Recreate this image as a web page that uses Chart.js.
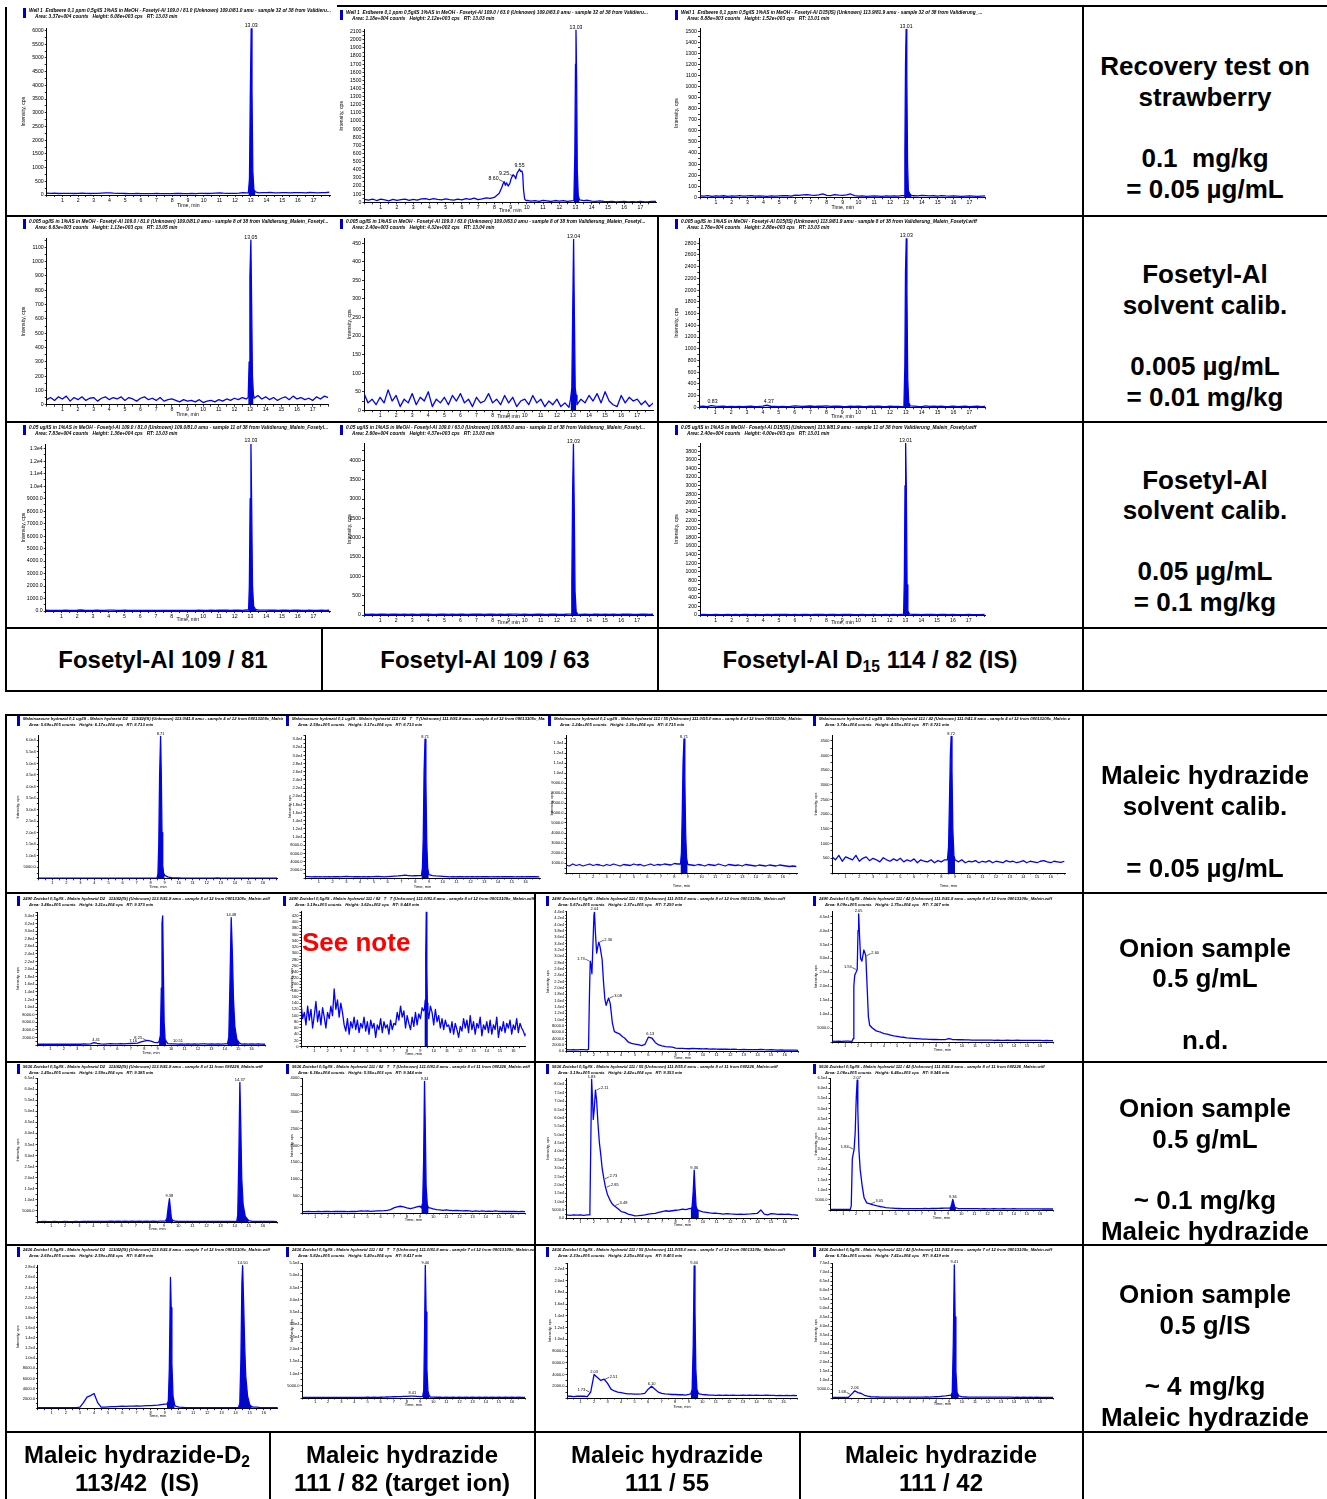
<!DOCTYPE html>
<html>
<head>
<meta charset="utf-8">
<title>Fosetyl-Al / Maleic hydrazide chromatograms</title>
<script src="https://cdn.jsdelivr.net/npm/chart.js@4.4.1/dist/chart.umd.min.js"></script>
<style>
  body { margin:0; width:1327px; height:1499px; background:#fff; position:relative; overflow:hidden;
         font-family:"Liberation Sans", Arial, sans-serif; }
  canvas { position:absolute; background:#fff; z-index:1; }
  .ln { position:absolute; background:#000; z-index:5; }
  .tx { position:absolute; width:400px; text-align:center; font-weight:bold; color:#000; white-space:nowrap; z-index:6; }
  .tx sub { font-size:65%; vertical-align:-0.25em; line-height:0; }
  .note { position:absolute; color:#ff0000; font-weight:bold; font-size:26px; line-height:26px; white-space:nowrap; z-index:6; }
</style>
</head>
<body>
<script>
// ---- time grids (min) ----
const gridA = [0,0.25,0.5,0.75,1,1.25,1.5,1.75,2,2.25,2.5,2.75,3,3.25,3.5,3.75,4,4.25,4.5,4.75,5,5.25,5.5,5.75,6,6.25,6.5,6.75,7,7.25,7.5,7.75,8,8.25,8.5,8.75,9,9.25,9.5,9.75,10,10.25,10.5,10.75,11,11.25,11.5,11.75,12,12.25,12.5,12.75,13,13.25,13.5,13.75,14,14.25,14.5,14.75,15,15.25,15.5,15.75,16,16.25,16.5,16.75,17,17.25,17.5,17.75,18];
const gridB = [0,0.25,0.5,0.75,1,1.25,1.5,1.75,2,2.25,2.5,2.75,3,3.25,3.5,3.75,4,4.25,4.5,4.75,5,5.25,5.5,5.75,6,6.25,6.5,6.75,7,7.25,7.5,7.75,8,8.25,8.5,8.75,9,9.25,9.5,9.75,10,10.25,10.5,10.75,11,11.25,11.5,11.75,12,12.25,12.5,12.75,13,13.25,13.5,13.75,14,14.25,14.5,14.75,15,15.25,15.5,15.75,16,16.25,16.5,16.75,17];
const gridF = [0,0.125,0.25,0.375,0.5,0.625,0.75,0.875,1,1.125,1.25,1.375,1.5,1.625,1.75,1.875,2,2.125,2.25,2.375,2.5,2.625,2.75,2.875,3,3.125,3.25,3.375,3.5,3.625,3.75,3.875,4,4.125,4.25,4.375,4.5,4.625,4.75,4.875,5,5.125,5.25,5.375,5.5,5.625,5.75,5.875,6,6.125,6.25,6.375,6.5,6.625,6.75,6.875,7,7.125,7.25,7.375,7.5,7.625,7.75,7.875,8,8.125,8.25,8.375,8.5,8.625,8.75,8.875,9,9.125,9.25,9.375,9.5,9.625,9.75,9.875,10,10.125,10.25,10.375,10.5,10.625,10.75,10.875,11,11.125,11.25,11.375,11.5,11.625,11.75,11.875,12,12.125,12.25,12.375,12.5,12.625,12.75,12.875,13,13.125,13.25,13.375,13.5,13.625,13.75,13.875,14,14.125,14.25,14.375,14.5,14.625,14.75,14.875,15,15.125,15.25,15.375,15.5,15.625,15.75,15.875,16,16.125,16.25,16.375,16.5,16.625,16.75,16.875,17];

// ---- Fosetyl-Al, strawberry 0.1 mg/kg ----
const a1Base = [70,60,65,55,60,58,62,55,60,65,58,55,60,62,70,80,75,65,60,58,55,50,52,55,50,48,52,50,55,50,48,52,50,55,58,52,50,55,52,60,58,55,62,70,75,65,60,58,62,70,90,80,75,85,80,90,85,95,80,75,90,85,80,88,90,85,80,92,85,80,90,85,100];
const a1Peak = [[12.85,80],[12.92,600],[12.97,3500],[13.03,6080],[13.08,3800],[13.13,900],[13.2,200],[13.3,110]];
const a1Marks = [[13.03,6080,'13.03']];
const a2Base = [35,28,40,22,38,30,18,35,25,32,40,24,36,28,42,45,32,44,36,30,42,32,26,40,30,46,36,52,34,42,55,48,60,100,180,250,260,320,380,380,30,15,20,12,25,18,10,22,15,20,12,18,10,15,20,25,15,12,18,10,8,12,5,8,10,6,8,5,10,6,8,12,10];
const a2Hump = [[8.0,60],[8.3,110],[8.45,180],[8.52,220],[8.6,255],[8.68,210],[8.75,240],[8.85,200],[8.95,230],[9.05,300],[9.15,340],[9.25,320],[9.32,290],[9.4,360],[9.5,390],[9.55,410],[9.62,380],[9.7,385],[9.75,340],[9.8,150],[9.87,40],[9.95,20],[10.05,25]];
const a2Peak = [[12.9,20],[12.96,600],[13.0,1700],[13.03,2120],[13.07,1500],[13.11,400],[13.17,80],[13.25,30]];
const a2Marks = [[8.60,255,'8.60','l'],[9.25,320,'9.25','l'],[9.55,410,'9.55'],[13.03,2120,'13.03']];
const a3Base = [12,10,15,8,12,10,14,9,12,10,15,10,12,14,10,12,10,8,12,10,12,14,15,10,20,18,22,25,20,18,22,30,18,15,25,20,18,22,30,15,10,12,8,10,12,10,8,12,10,12,10,15,12,10,14,12,18,15,12,14,10,15,12,10,12,10,8,10,12,10,8,10,12];
const a3Peak = [[12.88,15],[12.93,400],[12.97,1200],[13.01,1520],[13.05,1100],[13.1,300],[13.15,60],[13.25,30],[13.35,15]];
const a3Marks = [[13.01,1520,'13.01']];

// ---- Fosetyl-Al, solvent 0.005 ug/mL ----
const b1Base = [35,50,30,55,40,60,25,50,35,55,30,45,50,25,45,55,35,50,40,55,30,50,40,25,45,55,35,45,30,50,25,35,40,30,20,35,25,30,20,35,15,25,30,20,35,25,40,30,45,35,50,40,55,45,65,40,55,35,50,30,45,55,35,60,40,50,35,45,30,55,40,60,50];
const b1Peak = [[12.88,50],[12.94,300],[12.99,900],[13.05,1150],[13.1,700],[13.15,200],[13.22,60]];
const b1Marks = [[13.05,1150,'13.05']];
const b2Base = [45,20,30,15,35,20,55,25,40,10,30,20,45,15,35,25,50,10,30,20,35,15,40,25,45,20,30,10,35,20,25,45,20,30,15,40,20,35,10,25,30,15,40,20,30,10,25,15,30,10,20,8,25,15,30,20,40,25,45,20,50,25,15,10,40,20,35,25,30,15,25,10,20];
const b2Peak = [[12.85,30],[12.93,60],[12.98,250],[13.04,460],[13.09,250],[13.14,60],[13.2,40]];
const b2Marks = [[13.04,460,'13.04']];
const b3Base = [15,18,12,30,20,15,18,12,15,10,14,12,15,18,12,15,20,35,18,15,12,15,10,14,25,20,15,18,22,15,20,18,25,15,18,20,15,12,18,15,20,15,12,18,15,20,15,12,18,14,15,12,15,18,20,15,12,25,15,20,15,18,12,15,20,12,15,18,12,15,18,12,15];
const b3Peak = [[12.88,15],[12.94,700],[12.98,2300],[13.03,2880],[13.07,2000],[13.12,500],[13.18,80],[13.28,25]];
const b3Marks = [[0.83,40,'0.83'],[4.37,45,'4.37'],[13.03,2880,'13.03']];

// ---- Fosetyl-Al, solvent 0.05 ug/mL ----
const c1Base = [60,50,55,45,50,60,55,50,60,80,55,50,45,60,50,55,70,65,55,50,60,55,50,48,52,55,50,45,55,50,48,52,50,55,58,52,50,55,52,60,58,55,62,55,60,65,60,58,62,70,55,80,75,85,80,70,65,60,70,55,60,65,58,62,60,55,50,60,55,50,60,55,60];
const c1Peak = [[12.88,80],[12.93,2000],[12.98,9000],[13.03,13400],[13.08,8000],[13.13,2000],[13.2,400],[13.3,150],[13.4,90]];
const c1Marks = [[13.03,13400,'13.03']];
const c2Base = [20,15,25,18,20,22,15,20,25,18,20,15,22,18,20,25,20,15,18,20,22,18,20,15,25,20,18,22,20,25,18,20,22,18,20,15,20,25,22,18,20,15,18,20,22,18,20,25,20,18,20,25,30,20,15,22,18,20,25,18,20,15,22,18,20,25,20,15,18,20,22,18,20];
const c2Peak = [[12.88,25],[12.93,800],[12.98,3200],[13.03,4420],[13.08,2800],[13.13,600],[13.2,80],[13.3,25]];
const c2Marks = [[13.03,4420,'13.03']];
const c3Base = [10,12,8,10,12,10,8,12,10,12,10,12,14,10,12,10,8,12,10,12,12,14,15,10,12,10,12,14,10,12,14,12,10,15,12,10,12,14,12,10,10,12,8,10,12,10,8,12,10,12,10,15,12,10,14,12,10,15,12,14,10,15,12,10,12,10,8,10,12,10,8,10,12];
const c3Peak = [[12.88,12],[12.93,900],[12.97,3000],[13.01,3980],[13.05,3000],[13.1,700],[13.15,100],[13.25,20]];
const c3Marks = [[13.01,3980,'13.01']];

// ---- Maleic hydrazide, solvent 0.05 ug/mL ----
const d1Base = [300,300,280,300,320,300,300,280,300,300,300,320,300,300,280,300,300,300,320,300,300,280,300,300,300,320,300,300,300,280,300,320,300,300,320,1200,900,700,500,400,350,300,320,300,300,320,300,280,300,320,300,400,300,320,300,280,300,300,320,300,280,300,300,320,300,300,280,300,300];
const d1Peak = [[8.45,300],[8.52,2000],[8.58,15000],[8.64,45000],[8.71,61700],[8.76,45000],[8.81,20000],[8.86,6000],[8.92,2500],[9.0,1500]];
const d1Marks = [[8.71,61700,'8.71']];
const d2Base = [400,350,300,350,300,280,300,350,300,320,300,350,400,350,300,320,300,350,300,300,350,400,350,300,350,400,450,500,600,700,600,500,550,600,500,700,800,600,500,450,400,350,300,350,300,320,300,350,300,300,350,300,320,300,280,300,350,300,300,320,300,280,300,350,300,320,300,300,280];
const d2Peak = [[8.45,600],[8.52,2500],[8.58,10000],[8.64,26000],[8.71,34000],[8.77,24000],[8.83,9000],[8.9,2500],[8.98,900]];
const d2Marks = [[8.71,34000,'8.71']];
const d3Base = [800,700,900,750,850,700,800,900,750,850,800,700,850,750,900,800,700,850,800,750,900,800,850,700,800,900,750,850,800,900,850,800,950,900,800,900,850,800,750,850,800,700,850,800,750,900,800,700,850,800,750,800,700,850,800,750,700,800,750,700,800,750,700,800,750,700,650,700,650];
const d3Peak = [[8.45,900],[8.52,2000],[8.58,6000],[8.64,11000],[8.71,13400],[8.77,9500],[8.83,4000],[8.9,1500],[8.98,900]];
const d3Marks = [[8.71,13400,'8.71']];
const d4Base = [550,450,600,400,550,500,450,600,400,500,550,420,500,450,380,520,450,400,480,420,500,380,450,400,480,350,450,400,380,450,350,420,380,450,400,350,420,380,450,350,400,380,420,350,400,370,420,350,400,380,350,420,380,400,350,380,420,350,400,380,350,400,420,380,350,400,380,360,400];
const d4Peak = [[8.45,450],[8.53,900],[8.6,2500],[8.66,4000],[8.72,4650],[8.78,3500],[8.84,1500],[8.92,600],[9.0,450]];
const d4Marks = [[8.72,4650,'8.72']];

// ---- onion sample, n.d. ----
const e1Base = [200,200,250,200,200,250,200,200,250,200,200,250,200,200,300,250,300,600,400,300,250,300,350,300,300,350,300,350,400,450,500,800,1000,1200,1000,700,600,500,400,350,300,300,250,300,250,300,250,300,250,300,300,250,300,250,300,250,300,300,250,500,300,250,300,250,300,250,300,250,200];
const e1PeakA = [[9.1,900],[9.2,2500],[9.27,15000],[9.32,32000],[9.37,34000],[9.42,20000],[9.48,6000],[9.55,1500],[9.65,900]];
const e1PeakB = [[14.2,300],[14.3,2000],[14.38,15000],[14.48,33500],[14.56,25000],[14.65,12000],[14.75,5000],[14.9,1500],[15.1,500]];
const e1Marks = [[4.41,600,'4.41'],[7.16,400,'7.16'],[8.25,1200,'8.25','l'],[10.51,350,'10.51'],[14.48,33500,'14.48']];
const e2Base = [140,90,110,70,130,85,120,60,100,145,80,115,70,125,95,60,110,90,130,100,185,120,150,95,140,110,70,50,90,40,80,60,95,55,85,45,75,60,95,50,80,40,85,60,75,30,70,55,90,45,80,60,70,40,85,55,75,70,110,85,130,95,115,60,100,75,55,95,65,110,70,105,90,125,115,135,140,90,130,110,70,120,80,100,60,90,55,85,65,70,45,80,40,75,55,30,65,50,90,60,85,45,100,55,80,40,75,60,95,35,70,55,80,45,85,40,70,55,95,30,65,50,80,45,75,60,85,40,70,55,90,45,75,60,50,35,45];
const e2Peak = [[9.3,120],[9.36,150],[9.4,300],[9.44,433],[9.48,250],[9.52,140],[9.56,110]];
const e3Base = [500,450,500,450,500,500,450,28000,44000,34000,29000,16000,16500,8000,6500,5500,5000,4200,3000,2500,2300,2100,1800,2200,4500,4200,2800,2000,1700,1500,1400,1300,1000,900,900,850,800,900,850,800,750,800,700,750,700,650,700,650,600,700,600,550,600,550,500,550,500,600,500,450,500,450,400,450,400,350,400,350,300];
const e3Hump = [[1.6,600],[1.68,20000],[1.73,28500],[1.8,27000],[1.85,24500],[1.92,33000],[2.0,43000],[2.04,44000],[2.1,38000],[2.2,31000],[2.28,33000],[2.36,34500],[2.45,33000],[2.6,29000],[2.7,22000],[2.8,16500],[2.9,14500],[3.0,16000],[3.08,16800],[3.2,15000],[3.35,9000],[3.5,6200],[3.7,5800],[3.9,5400],[4.1,4600]];
const e3Marks = [[1.73,28500,'1.73','l'],[2.04,44000,'2.04'],[2.36,34500,'2.36','r'],[3.08,16800,'3.08','r'],[6.13,4800,'6.13']];
const e4Base = [300,250,300,250,300,300,250,300,300,300,300,300,300,300,300,3500,3000,2800,2500,2200,2000,1800,1700,1500,1400,1300,1200,1100,1000,1000,950,900,900,850,850,900,1200,900,850,800,800,750,750,700,700,700,650,650,700,650,600,650,600,600,650,600,600,700,600,600,550,600,550,600,550,500,550,500,500];
const e4Hump = [[1.55,300],[1.62,1200],[1.68,20000],[1.75,24000],[1.85,25000],[1.94,26000],[2.0,40000],[2.05,46000],[2.12,38000],[2.2,30000],[2.3,29000],[2.45,33000],[2.6,31000],[2.7,20000],[2.8,9000],[2.9,6000],[3.1,5000],[3.4,4000],[3.6,3700]];
const e4Marks = [[1.94,26000,'1.94','l'],[2.05,46000,'2.05'],[2.60,31000,'2.60','r']];

// ---- onion sample, ~0.1 mg/kg ----
const f1Base = [200,200,250,200,200,250,200,200,250,200,200,250,200,250,300,250,300,250,300,250,300,350,300,350,300,350,300,350,300,350,300,350,300,350,300,350,400,500,600,450,300,300,250,300,250,300,250,300,250,300,300,250,300,250,300,250,300,300,250,300,300,250,300,250,300,250,300,250,200];
const f1PeakA = [[9.1,500],[9.2,1500],[9.3,7000],[9.38,10500],[9.45,6000],[9.52,1500],[9.65,600]];
const f1PeakB = [[14.15,300],[14.22,3000],[14.3,30000],[14.37,63000],[14.43,45000],[14.5,20000],[14.6,8000],[14.75,2500],[15.0,600]];
const f1Marks = [[9.38,10500,'9.38'],[14.37,63000,'14.37']];
const f2Base = [40,40,50,40,40,50,40,45,50,40,45,50,45,50,40,50,45,50,60,55,60,50,55,60,65,70,80,100,150,180,200,180,150,130,150,180,200,250,200,150,120,100,90,80,90,80,70,80,70,60,70,60,50,60,50,60,50,55,50,60,50,45,50,45,50,45,40,45,40];
const f2Peak = [[9.1,150],[9.2,300],[9.27,1500],[9.34,3900],[9.4,2500],[9.46,800],[9.55,250],[9.65,150]];
const f2Marks = [[9.34,3900,'9.34']];
const f3Base = [2000,1800,2000,1900,2000,1800,2000,80000,75000,50000,30000,20000,12000,8000,6000,5000,4000,3500,2500,2000,1500,1600,1800,2000,2500,2800,3000,3500,4000,4500,4200,4500,4800,5000,5500,5200,5800,6000,6000,4500,3800,3500,3200,3000,3000,2800,2500,2800,2600,2500,2400,2500,2300,2500,2600,2800,3000,5000,2500,2000,2800,2600,2400,2500,2300,2500,2200,2000,1800];
const f3Hump = [[1.7,2000],[1.76,40000],[1.83,83000],[1.9,70000],[1.95,59000],[2.02,65000],[2.11,76500],[2.2,70000],[2.3,56000],[2.4,45000],[2.5,38000],[2.6,30000],[2.73,23500],[2.85,18500],[3.0,14000],[3.2,10500],[3.35,8500],[3.48,7500],[3.65,6500],[3.9,4800]];
const f3Peak = [[9.1,5800],[9.2,6500],[9.28,15000],[9.36,28800],[9.42,18000],[9.5,7000],[9.6,5000],[9.7,4800]];
const f3Marks = [[1.83,83000,'1.83'],[2.11,76500,'2.11','r'],[2.73,23500,'2.73','r'],[2.85,18500,'2.85','r'],[3.48,7500,'3.48','r'],[9.36,28800,'9.36']];
const f4Base = [300,300,250,300,300,300,250,300,300,300,300,300,300,300,300,300,1500,1200,1000,900,800,750,700,700,650,650,700,650,700,750,700,800,750,800,850,900,900,800,800,750,700,700,650,700,650,650,600,650,600,600,650,600,600,650,600,600,650,600,550,600,550,600,550,600,550,500,550,500,500];
const f4Hump = [[1.55,300],[1.62,2000],[1.7,25000],[1.78,28000],[1.84,30000],[1.92,38000],[2.0,55000],[2.07,64000],[2.12,50000],[2.2,30000],[2.3,20000],[2.45,12000],[2.6,6000],[2.8,3500],[3.05,3000],[3.3,2500],[3.6,2000],[3.9,1600]];
const f4Peak = [[9.1,900],[9.2,1200],[9.28,3000],[9.36,5200],[9.43,3500],[9.5,1500],[9.6,1000]];
const f4Marks = [[1.84,30000,'1.84','l'],[2.07,64000,'2.07'],[3.05,3000,'3.05','r'],[9.36,5200,'9.36']];

// ---- onion sample, ~4 mg/kg ----
const g1Base = [200,200,200,200,200,200,200,200,200,200,200,200,300,1200,2300,2600,3000,1200,300,300,350,400,400,450,500,450,500,500,550,500,550,600,600,650,700,800,900,900,700,500,300,250,200,200,200,200,200,200,200,200,200,200,200,200,200,200,200,200,300,200,200,300,300,200,200,200,200,200,200];
const g1PeakA = [[9.15,900],[9.25,1500],[9.32,8000],[9.4,26000],[9.45,20000],[9.5,9000],[9.58,2500],[9.7,700]];
const g1PeakB = [[14.2,200],[14.3,1000],[14.38,10000],[14.45,25000],[14.5,28300],[14.58,20000],[14.65,12000],[14.72,6500],[14.85,2500],[15.0,800],[15.15,400]];
const g1Marks = [[14.50,28300,'14.50']];
const g2Base = [200,200,250,200,200,250,200,200,250,200,200,250,200,250,200,250,200,250,200,250,300,250,300,250,300,350,400,450,500,550,600,650,700,750,800,700,600,500,450,400,350,300,300,250,300,250,300,250,300,250,300,250,300,250,300,250,300,250,300,250,300,250,300,250,300,250,300,250,200];
const g2Peak = [[9.2,700],[9.28,3000],[9.34,25000],[9.4,54000],[9.46,35000],[9.52,12000],[9.6,3000],[9.7,800]];
const g2Marks = [[8.41,900,'8.41'],[9.40,54000,'9.40']];
const g3Base = [300,300,250,300,300,300,250,1000,4000,3500,3000,3200,2500,1500,1200,1000,900,800,700,700,650,650,700,800,1500,2000,1500,1000,800,700,650,600,600,550,550,500,600,700,800,700,600,550,500,500,450,500,450,500,450,500,450,450,500,450,500,450,500,450,450,500,450,450,400,450,400,450,400,450,400];
const g3Peak = [[9.15,700],[9.25,1500],[9.33,9000],[9.4,22500],[9.46,15000],[9.52,5000],[9.6,1500],[9.7,800]];
const g3Marks = [[1.75,1000,'1.73','l'],[2.0,4000,'2.03'],[2.75,3200,'2.51','r'],[6.25,2000,'6.10'],[9.40,22500,'9.40']];
const g4Base = [300,300,300,300,300,300,2000,4000,3000,2500,1500,1000,700,600,550,500,500,450,450,450,450,450,450,450,450,500,450,500,500,550,500,600,700,800,1000,1200,1500,1200,900,700,600,550,500,500,450,500,450,500,450,450,500,450,450,500,450,450,400,450,400,450,400,450,400,450,400,400,400,400,400];
const g4Peak = [[9.15,1500],[9.25,3000],[9.33,30000],[9.41,74000],[9.47,45000],[9.53,15000],[9.62,3000],[9.75,1200]];
const g4Marks = [[1.5,2000,'1.68','l'],[1.75,4000,'2.06'],[9.41,74000,'9.41']];

// ---- chart headers ----
const heads = {
  a1: ['Well 1  Erdbeere 0,1 ppm 0,5g/IS 1%AS in MeOH - Fosetyl-Al 109.0 / 81.0 (Unknown) 109.0/81.0 amu - sample 32 of 38 from Validieru...', 'Area: 3.37e+004 counts   Height: 6.08e+003 cps   RT: 13.03 min'],
  a2: ['Well 1  Erdbeere 0,1 ppm 0,5g/IS 1%AS in MeOH - Fosetyl-Al 109.0 / 63.0 (Unknown) 109.0/63.0 amu - sample 32 of 38 from Validieru...', 'Area: 1.18e+004 counts   Height: 2.12e+003 cps   RT: 13.03 min'],
  a3: ['Well 1  Erdbeere 0,1 ppm 0,5g/IS 1%AS in MeOH - Fosetyl-Al D15(IS) (Unknown) 113.9/81.9 amu - sample 32 of 38 from Validierung_...', 'Area: 8.88e+003 counts   Height: 1.52e+003 cps   RT: 13.01 min'],
  b1: ['0.005 ug/IS in 1%AS in MeOH - Fosetyl-Al 109.0 / 81.0 (Unknown) 109.0/81.0 amu - sample 8 of 38 from Validierung_Malein_Fosetyl...', 'Area: 6.63e+003 counts   Height: 1.13e+003 cps   RT: 13.05 min'],
  b2: ['0.005 ug/IS in 1%AS in MeOH - Fosetyl-Al 109.0 / 63.0 (Unknown) 109.0/63.0 amu - sample 8 of 38 from Validierung_Malein_Fosetyl...', 'Area: 2.40e+003 counts   Height: 4.32e+002 cps   RT: 13.04 min'],
  b3: ['0.005 ug/IS in 1%AS in MeOH - Fosetyl-Al D15(IS) (Unknown) 113.9/81.9 amu - sample 8 of 38 from Validierung_Malein_Fosetyl.wiff', 'Area: 1.78e+004 counts   Height: 2.88e+003 cps   RT: 13.03 min'],
  c1: ['0.05 ug/IS in 1%AS in MeOH - Fosetyl-Al 109.0 / 81.0 (Unknown) 109.0/81.0 amu - sample 11 of 38 from Validierung_Malein_Fosetyl...', 'Area: 7.83e+004 counts   Height: 1.36e+004 cps   RT: 13.03 min'],
  c2: ['0.05 ug/IS in 1%AS in MeOH - Fosetyl-Al 109.0 / 63.0 (Unknown) 109.0/63.0 amu - sample 11 of 38 from Validierung_Malein_Fosetyl...', 'Area: 2.60e+004 counts   Height: 4.37e+003 cps   RT: 13.03 min'],
  c3: ['0.05 ug/IS in 1%AS in MeOH - Fosetyl-Al D15(IS) (Unknown) 113.9/81.9 amu - sample 11 of 38 from Validierung_Malein_Fosetyl.wiff', 'Area: 2.40e+004 counts   Height: 4.00e+003 cps   RT: 13.01 min'],
  d1: ['Maleinsaeure hydrazid 0,1 ug/IS - Malein hydrazid D2   113/42(IS) (Unknown) 113.0/41.8 amu - sample 4 of 12 from 08013108c_Malein...', 'Area: 5.69e+005 counts   Height: 6.17e+004 cps   RT: 8.713 min'],
  d2: ['Maleinsaeure hydrazid 0,1 ug/IS - Malein hydrazid 111 / 82   T   T (Unknown) 111.0/81.8 amu - sample 4 of 12 from 08013108c_Malein...', 'Area: 2.58e+005 counts   Height: 3.17e+004 cps   RT: 8.713 min'],
  d3: ['Maleinsaeure hydrazid 0,1 ug/IS - Malein hydrazid 111 / 55 (Unknown) 111.0/55.0 amu - sample 4 of 12 from 08013108c_Malein.wiff', 'Area: 1.24e+005 counts   Height: 1.36e+004 cps   RT: 8.715 min'],
  d4: ['Maleinsaeure hydrazid 0,1 ug/IS - Malein hydrazid 111 / 42 (Unknown) 111.0/41.8 amu - sample 4 of 12 from 08013108c_Malein.wiff', 'Area: 3.74e+004 counts   Height: 4.55e+003 cps   RT: 8.721 min'],
  e1: ['2490 Zwiebel 0,5g/IS - Malein hydrazid D2   113/42(IS) (Unknown) 113.0/41.8 amu - sample 8 of 12 from 08013108c_Malein.wiff', 'Area: 3.46e+005 counts   Height: 3.21e+004 cps   RT: 9.373 min'],
  e2: ['2490 Zwiebel 0,5g/IS - Malein hydrazid 111 / 82   T   T (Unknown) 111.0/81.8 amu - sample 8 of 12 from 08013108c_Malein.wiff', 'Area: 3.19e+003 counts   Height: 3.62e+002 cps   RT: 9.448 min'],
  e3: ['2490 Zwiebel 0,5g/IS - Malein hydrazid 111 / 55 (Unknown) 111.0/55.0 amu - sample 8 of 12 from 08013108c_Malein.wiff', 'Area: 5.67e+005 counts   Height: 1.37e+005 cps   RT: 7.250 min'],
  e4: ['2490 Zwiebel 0,5g/IS - Malein hydrazid 111 / 42 (Unknown) 111.0/41.8 amu - sample 8 of 12 from 08013108c_Malein.wiff', 'Area: 9.09e+005 counts   Height: 1.75e+004 cps   RT: 7.167 min'],
  f1: ['5616 Zwiebel 0,5g/IS - Malein hydrazid D2   113/42(IS) (Unknown) 113.0/41.8 amu - sample 8 of 11 from 080226_Malein.wiff', 'Area: 1.45e+005 counts   Height: 1.59e+004 cps   RT: 9.385 min'],
  f2: ['5616 Zwiebel 0,5g/IS - Malein hydrazid 111 / 82   T   T (Unknown) 111.0/81.8 amu - sample 8 of 11 from 080226_Malein.wiff', 'Area: 6.36e+004 counts   Height: 5.56e+003 cps   RT: 9.344 min'],
  f3: ['5616 Zwiebel 0,5g/IS - Malein hydrazid 111 / 55 (Unknown) 111.0/55.0 amu - sample 8 of 11 from 080226_Malein.wiff', 'Area: 3.19e+005 counts   Height: 2.42e+004 cps   RT: 9.353 min'],
  f4: ['5616 Zwiebel 0,5g/IS - Malein hydrazid 111 / 42 (Unknown) 111.0/41.8 amu - sample 8 of 11 from 080226_Malein.wiff', 'Area: 1.06e+005 counts   Height: 6.46e+003 cps   RT: 9.346 min'],
  g1: ['2416 Zwiebel 0,5g/IS - Malein hydrazid D2   113/42(IS) (Unknown) 113.0/41.8 amu - sample 7 of 12 from 08013108c_Malein.wiff', 'Area: 2.60e+005 counts   Height: 2.59e+004 cps   RT: 9.409 min'],
  g2: ['2416 Zwiebel 0,5g/IS - Malein hydrazid 111 / 82   T   T (Unknown) 111.0/81.8 amu - sample 7 of 12 from 08013108c_Malein.wiff', 'Area: 5.82e+005 counts   Height: 5.40e+004 cps   RT: 9.417 min'],
  g3: ['2416 Zwiebel 0,5g/IS - Malein hydrazid 111 / 55 (Unknown) 111.0/55.0 amu - sample 7 of 12 from 08013108c_Malein.wiff', 'Area: 2.33e+005 counts   Height: 2.25e+004 cps   RT: 9.403 min'],
  g4: ['2416 Zwiebel 0,5g/IS - Malein hydrazid 111 / 42 (Unknown) 111.0/41.8 amu - sample 7 of 12 from 08013108c_Malein.wiff', 'Area: 6.74e+005 counts   Height: 7.41e+004 cps   RT: 9.419 min']
};

// ---- layout of the chart cells (page px); yt / xt = centre of the axis titles ----
const T1 = {grid: gridA, xLast: 17, fs: 5.2, hf: 4.8, tl: 2};
const T2 = {grid: gridB, xLast: 16, fs: 4.0, hf: 4.2, tl: 1.5};
const cells = [
  {id:'a1', t:T1, box:[7,6,330,208],   plot:[46.7,28.3,330,195],   hx:23,  yt:24,  xt:206,   xMax:18.05, yMax:6080,  yStep:500,  fmt:'int', zero:true, base:a1Base, segs:[a1Peak], fills:[a1Peak], marks:a1Marks},
  {id:'a2', t:T1, box:[338,8,327,206], plot:[364.5,29.5,656,202.3], hx:340, yt:342, xt:211.5, xMax:17.96, yMax:2127,  yStep:100,  fmt:'int', zero:true, base:a2Base, segs:[a2Hump,a2Peak], fills:[a2Peak], marks:a2Marks},
  {id:'a3', t:T1, box:[668,8,322,206], plot:[700,28.7,985.7,197.3], hx:675, yt:677, xt:207.5, xMax:18.03, yMax:1523,  yStep:100,  fmt:'int', zero:true, base:a3Base, segs:[a3Peak], fills:[a3Peak], marks:a3Marks},
  {id:'b1', t:T1, box:[7,217,330,203], plot:[46.7,238.3,328.3,404.7], hx:23, yt:24,  xt:415,   xMax:18.0,  yMax:1163,  yStep:100,  fmt:'int', zero:true, base:b1Base, segs:[b1Peak], fills:[b1Peak], marks:b1Marks},
  {id:'b2', t:T1, box:[338,217,318,203], plot:[364,238.3,653,410.3], hx:340, yt:350, xt:419.5, xMax:17.98, yMax:463,   yStep:50,   fmt:'int', zero:true, base:b2Base, segs:[b2Peak], fills:[b2Peak], marks:b2Marks},
  {id:'b3', t:T1, box:[668,217,322,203], plot:[699.3,238.3,985.7,407.3], hx:675, yt:677, xt:417, xMax:18.03, yMax:2885, yStep:200, fmt:'int', zero:true, base:b3Base, segs:[b3Peak], fills:[b3Peak], marks:b3Marks},
  {id:'c1', t:T1, box:[7,423,330,203], plot:[45.7,444,330,611],     hx:23,  yt:24,  xt:620,   xMax:18.05, yMax:13377, yStep:1000, fmt:'sci', zero:true, base:c1Base, segs:[c1Peak], fills:[c1Peak], marks:c1Marks},
  {id:'c2', t:T1, box:[338,423,318,203], plot:[364,443,653,615],    hx:340, yt:350, xt:624,   xMax:17.98, yMax:4450,  yStep:500,  fmt:'int', zero:true, base:c2Base, segs:[c2Peak], fills:[c2Peak], marks:c2Marks},
  {id:'c3', t:T1, box:[668,423,322,203], plot:[700,443,985,615],    hx:675, yt:677, xt:623,   xMax:18.03, yMax:3990,  yStep:200,  fmt:'int', zero:true, base:c3Base, segs:[c3Peak], fills:[c3Peak], marks:c3Marks},

  {id:'d1', t:T2, box:[10,714,275,177],  plot:[38.3,735.3,277.7,878.8], hx:17,  yt:18,  xt:886.5, xMax:17.05, yMax:62170, yStep:5000, fmt:'sci', zero:false, base:d1Base, segs:[d1Peak], fills:[d1Peak], marks:d1Marks},
  {id:'d2', t:T2, box:[283,714,262,177], plot:[305,735,540,878],     hx:286, yt:290, xt:886.5, xMax:17.05, yMax:35000, yStep:2000, fmt:'sci', zero:false, base:d2Base, segs:[d2Peak], fills:[d2Peak], marks:d2Marks},
  {id:'d3', t:T2, box:[545,714,258,177], plot:[566,735,797,873],     hx:548, yt:552, xt:886,  xMax:17.05, yMax:13800, yStep:1000, fmt:'sci', zero:false, base:d3Base, segs:[d3Peak], fills:[d3Peak], marks:d3Marks},
  {id:'d4', t:T2, box:[808,714,262,177], plot:[832,735,1065,873],    hx:813, yt:816, xt:886,  xMax:17.05, yMax:4700,  yStep:500,  fmt:'int', zero:false, base:d4Base, segs:[d4Peak], fills:[d4Peak], marks:d4Marks},
  {id:'e1', t:T2, box:[10,894,262,167],  plot:[37,912,265,1045],     hx:17,  yt:18,  xt:1052.5, xMax:17.0, yMax:35000, yStep:2000, fmt:'sci', zero:false, base:e1Base, segs:[e1PeakA,e1PeakB], fills:[e1PeakA,e1PeakB], marks:e1Marks},
  {id:'e2', t:T2, grid:gridF, box:[282,894,252,167], plot:[301,911.7,525.7,1046.7], hx:283, yt:292, xt:1053.5, xMax:16.93, yMax:433, yStep:20, fmt:'int', zero:true, base:e2Base, segs:[e2Peak], fills:[e2Peak], marks:[]},
  {id:'e3', t:T2, box:[537,894,263,167], plot:[566.7,911.7,798.3,1051.3], hx:546, yt:548, xt:1058, xMax:17.0, yMax:44090, yStep:2000, fmt:'sci', zero:true, base:e3Base, segs:[e3Hump], fills:[], marks:e3Marks},
  {id:'e4', t:T2, box:[808,894,262,167], plot:[832,911,1053,1042],   hx:813, yt:816, xt:1050, xMax:17.0,  yMax:47000, yStep:5000, fmt:'sci', zero:false, base:e4Base, segs:[e4Hump], fills:[], marks:e4Marks},
  {id:'f1', t:T2, box:[10,1062,275,182], plot:[37,1078,277,1222],    hx:17,  yt:18,  xt:1229, xMax:17.0,  yMax:65000, yStep:5000, fmt:'sci', zero:false, base:f1Base, segs:[f1PeakA,f1PeakB], fills:[f1PeakA,f1PeakB], marks:f1Marks},
  {id:'f2', t:T2, box:[282,1062,252,182], plot:[302,1078,525,1213],  hx:286, yt:292, xt:1219.5, xMax:17.0, yMax:4000,  yStep:500,  fmt:'int', zero:false, base:f2Base, segs:[f2Peak], fills:[f2Peak], marks:f2Marks},
  {id:'f3', t:T2, box:[537,1062,263,182], plot:[566.7,1078.3,798.3,1218.3], hx:546, yt:548, xt:1225, xMax:17.0, yMax:83580, yStep:5000, fmt:'sci', zero:true, base:f3Base, segs:[f3Hump,f3Peak], fills:[f3Peak], marks:f3Marks},
  {id:'f4', t:T2, box:[808,1062,262,182], plot:[830,1078,1053,1210], hx:813, yt:816, xt:1218, xMax:17.0,  yMax:65000, yStep:5000, fmt:'sci', zero:false, base:f4Base, segs:[f4Hump,f4Peak], fills:[f4Peak], marks:f4Marks},
  {id:'g1', t:T2, box:[10,1245,275,186], plot:[37.5,1265,277.7,1408.7], hx:17, yt:18, xt:1415.5, xMax:16.98, yMax:28450, yStep:2000, fmt:'sci', zero:false, base:g1Base, segs:[g1PeakA,g1PeakB], fills:[g1PeakA,g1PeakB], marks:g1Marks},
  {id:'g2', t:T2, box:[282,1245,252,186], plot:[302,1263,525,1398],  hx:286, yt:292, xt:1405, xMax:17.0,  yMax:55000, yStep:5000, fmt:'sci', zero:false, base:g2Base, segs:[g2Peak], fills:[g2Peak], marks:g2Marks},
  {id:'g3', t:T2, box:[537,1245,263,186], plot:[567,1263,797,1398],  hx:546, yt:550, xt:1407, xMax:17.0,  yMax:23000, yStep:2000, fmt:'sci', zero:false, base:g3Base, segs:[g3Peak], fills:[g3Peak], marks:g3Marks},
  {id:'g4', t:T2, box:[808,1245,262,186], plot:[832,1263,1053,1398], hx:813, yt:816, xt:1404, xMax:17.0,  yMax:75000, yStep:5000, fmt:'sci', zero:false, base:g4Base, segs:[g4Peak], fills:[g4Peak], marks:g4Marks}
];

const FONT = '"Liberation Sans", Arial, sans-serif';
const BLUE = '#0000ff';
const FILL = '#0008c4';
Chart.defaults.font.family = FONT;
Chart.defaults.color = '#000';

// baseline points outside the detailed segments, plus the segment points
function mergeTrace(grid, base, segs) {
  const pts = [];
  const n = Math.min(grid.length, base.length);
  for (let i = 0; i < n; i++) {
    const t = grid[i];
    if (segs.some(s => t >= s[0][0] && t <= s[s.length - 1][0])) continue;
    pts.push({x: t, y: base[i]});
  }
  segs.forEach(s => s.forEach(p => pts.push({x: p[0], y: p[1]})));
  pts.sort((a, b) => a.x - b.x);
  return pts;
}

// tick marks every `step` from 0 up to max
function stepTicks(max, step) {
  const out = [];
  for (let k = 0; k * step <= max + 1e-9; k++) out.push({value: k * step});
  return out;
}

function yLabel(v, c) {
  const k = v / c.yStep;
  if (Math.abs(k - Math.round(k)) > 1e-6) return '';
  if (v === 0 && !c.zero) return '';
  if (c.fmt === 'sci') return v >= 10000 ? (v / 10000).toFixed(1) + 'e4' : v.toFixed(1);
  return String(Math.round(v));
}

cells.forEach(c => {
  const [bx, by, bw, bh] = c.box;
  const [pl, pt, pr, pb] = c.plot;
  const T = c.t;
  const lh = T.fs * 1.2;
  const cv = document.createElement('canvas');
  cv.width = bw; cv.height = bh;
  cv.style.left = bx + 'px'; cv.style.top = by + 'px';
  cv.style.width = bw + 'px'; cv.style.height = bh + 'px';
  document.body.appendChild(cv);

  const datasets = [{
    data: mergeTrace(c.grid || T.grid, c.base, c.segs),
    borderColor: BLUE, borderWidth: 1.3, borderJoinStyle: 'round',
    pointRadius: 0, fill: false, tension: 0
  }];
  c.fills.forEach(seg => datasets.push({
    data: seg.map(p => ({x: p[0], y: p[1]})),
    borderWidth: 0, pointRadius: 0, fill: 'origin', backgroundColor: FILL, tension: 0
  }));

  const tickFont = {size: T.fs, family: FONT};
  const deco = {
    id: 'deco' + c.id,
    afterDraw(chart) {
      const ctx = chart.ctx;
      const xs = chart.scales.x, ys = chart.scales.y;
      const head = heads[c.id];
      ctx.save();
      ctx.fillStyle = '#0000c0';
      ctx.fillRect(c.hx - bx, 2, 3, 10);
      ctx.fillStyle = '#000';
      ctx.font = 'italic bold ' + T.hf + 'px ' + FONT;
      ctx.textAlign = 'left';
      ctx.fillText(head[0], c.hx - bx + 6, 6.3);
      ctx.fillText(head[1], c.hx - bx + 12, 11.5);
      ctx.font = T.fs + 'px ' + FONT;
      ctx.strokeStyle = '#000';
      ctx.lineWidth = 0.6;
      c.marks.forEach(([t, v, txt, side]) => {
        const px = xs.getPixelForValue(t), py = ys.getPixelForValue(v);
        if (!side) {
          ctx.textAlign = 'center';
          ctx.fillText(txt, px, py - 1.5);
        } else {
          const d = side === 'l' ? -1 : 1;
          ctx.beginPath();
          ctx.moveTo(px + d, py);
          ctx.lineTo(px + d * 5, py - 2);
          ctx.stroke();
          ctx.textAlign = side === 'l' ? 'right' : 'left';
          ctx.fillText(txt, px + d * 5.5, py - 1.5);
        }
      });
      ctx.restore();
    }
  };

  const gridOpt = {drawOnChartArea: false, drawTicks: true, tickLength: T.tl, color: '#000', lineWidth: 0.8};
  new Chart(cv, {
    type: 'line',
    data: {datasets},
    options: {
      responsive: false,
      animation: false,
      events: [],
      layout: {padding: {top: pt - by, right: (bx + bw) - pr, left: 0, bottom: 0}},
      plugins: {legend: {display: false}, tooltip: {enabled: false}},
      scales: {
        x: {
          type: 'linear', min: 0, max: c.xMax,
          afterFit: s => { s.height = (by + bh) - pb; },
          afterBuildTicks: s => { s.ticks = stepTicks(c.xMax, 0.5); },
          ticks: {
            autoSkip: false, maxRotation: 0, padding: 0, font: tickFont, color: '#000',
            callback: v => (Number.isInteger(v) && v >= 1 && v <= T.xLast) ? String(v) : ''
          },
          grid: gridOpt,
          border: {color: '#000', width: 1},
          title: {display: true, text: 'Time, min', font: tickFont, color: '#000',
                  padding: {top: 0, bottom: Math.max(0, (by + bh) - c.xt - lh / 2)}}
        },
        y: {
          type: 'linear', min: 0, max: c.yMax,
          afterFit: s => { s.width = pl - bx; },
          afterBuildTicks: s => { s.ticks = stepTicks(c.yMax, c.yStep / 2); },
          ticks: {autoSkip: false, padding: 1, font: tickFont, color: '#000', callback: v => yLabel(v, c)},
          grid: gridOpt,
          border: {color: '#000', width: 1},
          title: {display: true, text: 'Intensity, cps', font: tickFont, color: '#000',
                  padding: {top: Math.max(0, c.yt - bx - lh / 2), bottom: 0}}
        }
      }
    },
    plugins: [deco]
  });
});

// ---- table rules ----
const rules = [
  // table 1
  [337,5,990,2],[5,7,2,685],[5,215,1322,2],[5,421,1322,2],[5,627,1322,2],[5,690,1322,2],
  [1082,5,2,687],[657,215,2,477],[321,627,2,65],
  // table 2
  [5,714,1322,2],[5,714,2,785],[5,892,1322,2],[5,1061,1322,2],[5,1244,1322,2],[5,1431,1322,2],
  [1082,714,2,785],[534,892,2,607],[269,1431,2,68],[799,1431,2,68]
];
rules.forEach(([x, y, w, h]) => {
  const d = document.createElement('div');
  d.className = 'ln';
  d.style.cssText = `left:${x}px;top:${y}px;width:${w}px;height:${h}px`;
  document.body.appendChild(d);
});

// ---- cell captions: [centre x, centre y, text, font size] ----
const captions = [
  [1205,66,'Recovery test on',26],[1205,97,'strawberry',26],[1205,158,'0.1&nbsp; mg/kg',26],[1205,189,'= 0.05 µg/mL',26],
  [1205,274,'Fosetyl-Al',26],[1205,305,'solvent calib.',26],[1205,366,'0.005 µg/mL',26],[1205,397,'= 0.01 mg/kg',26],
  [1205,480,'Fosetyl-Al',26],[1205,510,'solvent calib.',26],[1205,571,'0.05 µg/mL',26],[1205,602,'= 0.1 mg/kg',26],
  [163,660,'Fosetyl-Al 109 / 81',24],[485,660,'Fosetyl-Al 109 / 63',24],[870,660,'Fosetyl-Al D<sub>15</sub> 114 / 82 (IS)',24],
  [1205,775,'Maleic hydrazide',26],[1205,806,'solvent calib.',26],[1205,868,'= 0.05 µg/mL',26],
  [1205,948,'Onion sample',26],[1205,978,'0.5 g/mL',26],[1205,1040,'n.d.',26],
  [1205,1108,'Onion sample',26],[1205,1139,'0.5 g/mL',26],[1205,1200,'~ 0.1 mg/kg',26],[1205,1231,'Maleic hydrazide',26],
  [1205,1294,'Onion sample',26],[1205,1325,'0.5 g/IS',26],[1205,1386,'~ 4 mg/kg',26],[1205,1417,'Maleic hydrazide',26],
  [137,1455,'Maleic hydrazide-D<sub>2</sub>',24],[137,1483,'113/42&nbsp; (IS)',24],
  [402,1455,'Maleic hydrazide',24],[402,1483,'111 / 82 (target ion)',24],
  [667,1455,'Maleic hydrazide',24],[667,1483,'111 / 55',24],
  [941,1455,'Maleic hydrazide',24],[941,1483,'111 / 42',24]
];
captions.forEach(([cx, cy, html, size]) => {
  const d = document.createElement('div');
  d.className = 'tx';
  d.style.cssText = `left:${cx - 200}px;top:${cy - 15}px;line-height:30px;font-size:${size}px`;
  d.innerHTML = html;
  document.body.appendChild(d);
});

const note = document.createElement('div');
note.className = 'note';
note.style.cssText = 'left:302px;top:929px';
note.textContent = 'See note';
document.body.appendChild(note);
</script>
</body>
</html>
